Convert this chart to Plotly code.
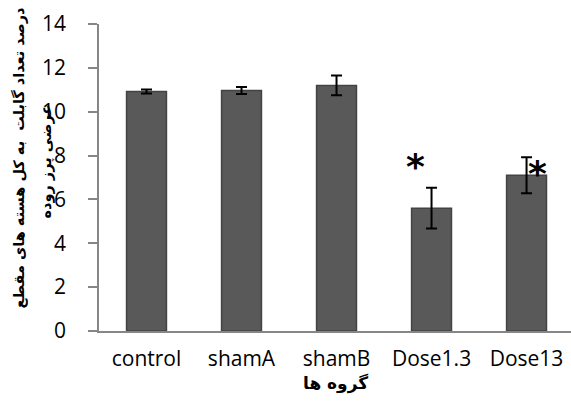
import plotly.graph_objects as go

categories = ["control", "shamA", "shamB", "Dose1.3", "Dose13"]
values = [10.92, 10.97, 11.2, 5.6, 7.1]
errors = [0.09, 0.16, 0.45, 0.93, 0.82]
yticks = [0, 2, 4, 6, 8, 10, 12, 14]
star_x = [2.83, 4.12]
star_y = [7.5, 7.2]

ytitle_line1 = "درصد تعداد گابلت  به کل هسته های مقطع"
ytitle_line2 = "عرضی پرز روده"
xtitle = "گروه ها"

fig = go.Figure()
fig.add_trace(go.Bar(
    x=categories, y=values, width=0.42,
    marker=dict(color="#595959", line=dict(color="#434343", width=1.5)),
    error_y=dict(type="data", array=errors, color="black", thickness=2, width=5.5),
))

for sx, sy in zip(star_x, star_y):
    fig.add_annotation(x=sx, y=sy, xref="x", yref="y", text="<b>*</b>", showarrow=False,
                       font=dict(family="DejaVu Sans", size=36, color="black"))

PL = 99
PW = 472
fig.add_annotation(x=(19 - PL) / PW, y=0.562, xref="paper", yref="paper",
                   text="<b>" + ytitle_line1 + "</b>",
                   textangle=-90, showarrow=False, xanchor="center", yanchor="middle",
                   font=dict(family="DejaVu Sans", size=14.5, color="black"))
fig.add_annotation(x=(47 - PL) / PW, y=0.552, xref="paper", yref="paper",
                   text="<b>" + ytitle_line2 + "</b>",
                   textangle=-90, showarrow=False, xanchor="center", yanchor="middle",
                   font=dict(family="DejaVu Sans", size=14.5, color="black"))
fig.add_annotation(x=0.5, y=-0.17, xref="paper", yref="paper", text="<b>" + xtitle + "</b>",
                   showarrow=False, xanchor="center", yanchor="middle",
                   font=dict(family="DejaVu Sans", size=17, color="black"))

fig.update_layout(
    template="none",
    width=571, height=414,
    margin=dict(l=PL, r=0, t=24, b=83, autoexpand=False),
    plot_bgcolor="white", paper_bgcolor="white",
    showlegend=False,
    font=dict(family="Open Sans", size=21, color="black"),
    xaxis=dict(range=[-0.5, 4.468], showline=True, linecolor="#868686", linewidth=1.5,
               ticks="", showgrid=False, zeroline=False, ticklabelstandoff=8,
               automargin=False),
    yaxis=dict(range=[0, 14], tickvals=yticks, showline=True, linecolor="#868686", linewidth=1.5,
               ticks="outside", ticklen=9, tickcolor="#868686", tickwidth=1.5,
               showgrid=False, zeroline=False, ticklabelstandoff=18, automargin=False),
)

fig.write_html("out.html", config={"displayModeBar": False},
               post_script="document.body.style.margin='0';document.body.style.overflow='hidden';")
